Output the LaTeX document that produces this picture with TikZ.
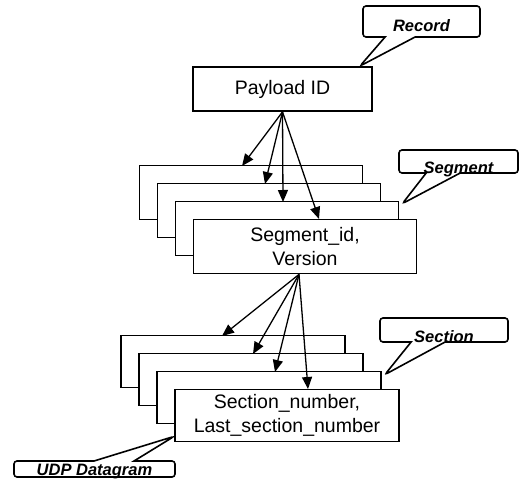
\documentclass[tikz,border=0pt]{standalone}
\usepackage{fontspec}
\setmainfont{Liberation Sans}
\usetikzlibrary{arrows.meta,shapes.callouts,positioning}

\begin{document}
\begin{tikzpicture}[x=1pt,y=-1pt,
      block/.style={
         rectangle,
         draw=black,
         fill=white,
         line width=1.8pt,
         inner sep=0pt,
         align=center,
         font=\fontsize{19.5}{24}\selectfont
      },
      segbox/.style={block, minimum width=223pt, minimum height=54pt},
      secbox/.style={block, minimum width=224pt, minimum height=52pt},
      note/.style={
         rectangle callout,
         draw=black,
         fill=white,
         line width=1.6pt,
         rounded corners=3pt,
         inner sep=0pt,
         text depth=0pt,
         font=\bfseries\itshape\fontsize{16.5}{20}\selectfont
      },
      >={Triangle[length=12pt,width=10pt]},
      tip/.style={->,line width=1.3pt}
    ]
    \useasboundingbox (0,0) rectangle (524,481);

    % record
    \node (pay) [block, minimum width=179pt, minimum height=44pt] at (282.5,89) {Payload ID};

    % segments, back to front
    \node (sg1) [segbox] at (251,192.5) {};
    \node (sg2) [segbox] at (269,210.5) {};
    \node (sg3) [segbox] at (287,228.5) {};
    \node (sg4) [segbox] at (305,246.5) {Segment\_id,\\Version};

    % sections, back to front
    \node (sc1) [secbox] at (233,361.5) {};
    \node (sc2) [secbox] at (251,379.5) {};
    \node (sc3) [secbox] at (269,397.5) {};
    \node (sc4) [secbox] at (287,415.5) {Section\_number,\\Last\_section\_number};

    % arrow ends on the box tops
    \coordinate (sg1t) at (242,166);
    \coordinate (sg2t) at (265,184);
    \coordinate (sg3t) at (283,202);
    \coordinate (sg4t) at (319,219);
    \coordinate (sc1t) at (222,336);
    \coordinate (sc2t) at (253,354);
    \coordinate (sc3t) at (275,372);
    \coordinate (sc4t) at (308,389);

    \draw[tip] (pay.south) -- (sg1t);
    \draw[tip] (pay.south) -- (sg2t);
    \draw[tip] (pay.south) -- (sg3t);
    \draw[tip] (pay.south) -- (sg4t);

    \draw[tip] ([xshift=-6pt]sg4.south) -- (sc1t);
    \draw[tip] ([xshift=-6pt]sg4.south) -- (sc2t);
    \draw[tip] ([xshift=-6pt]sg4.south) -- (sc3t);
    \draw[tip] ([xshift=-6pt]sg4.south) -- (sc4t);

    % callouts
    \node (rec) [note, minimum width=117pt, minimum height=31pt, text height=20pt,
       callout pointer width=30pt,
       callout absolute pointer={([xshift=-13pt]pay.north east)}] at (421.5,21.5) {Record};
    \node (seg) [note, minimum width=119pt, minimum height=23pt, text height=23pt,
       callout pointer width=34pt,
       callout absolute pointer={([xshift=3pt,yshift=-3pt]sg3.north east)}] at (458.5,161.5) {Segment};
    \node (sec) [note, minimum width=128pt, minimum height=24pt, text height=24pt,
       callout pointer width=34pt,
       callout absolute pointer={([xshift=3pt,yshift=-4pt]sc3.north east)}] at (444,330) {Section};
    \node (udp) [note, minimum width=161pt, minimum height=16pt, text height=12pt,
       callout pointer width=40pt,
       callout absolute pointer={([yshift=6pt]sc4.south west)}] at (94.5,469) {UDP Datagram};
\end{tikzpicture}
\end{document}
